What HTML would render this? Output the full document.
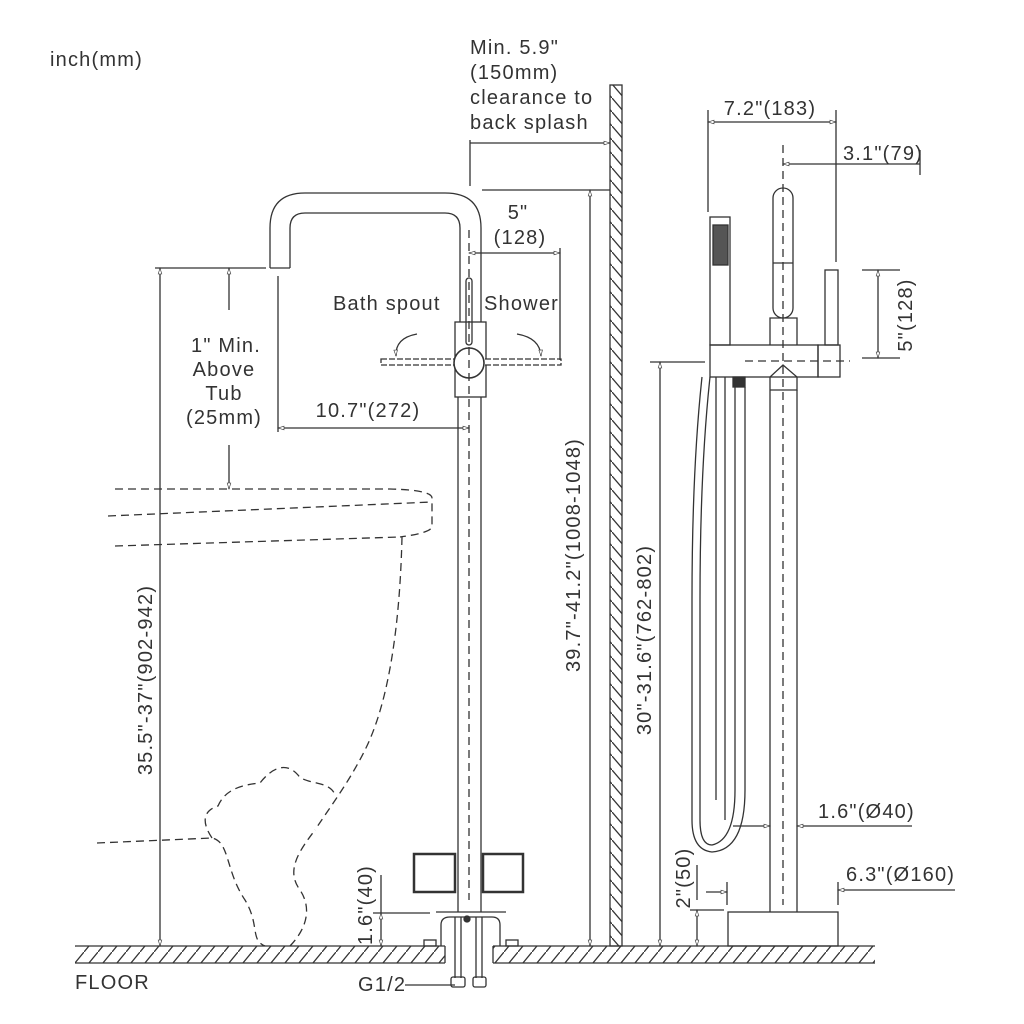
<!DOCTYPE html>
<html><head><meta charset="utf-8"><style>
html,body{margin:0;padding:0;background:#fff;}
svg{display:block;}
text{font-family:"Liberation Sans",Arial,sans-serif;fill:#333;font-size:20px;letter-spacing:1.2px;}
</style></head><body>
<svg width="1024" height="1024" viewBox="0 0 1024 1024" xmlns="http://www.w3.org/2000/svg">
<defs>
<pattern id="h" width="14" height="17" patternUnits="userSpaceOnUse">
<line x1="0" y1="17" x2="14" y2="0" stroke="#333" stroke-width="1.3"/>
</pattern>
<pattern id="wh" width="12" height="14" patternUnits="userSpaceOnUse">
<line x1="0" y1="0" x2="12" y2="14" stroke="#333" stroke-width="1.3"/>
</pattern>
<marker id="a" viewBox="0 0 10 10" refX="10" refY="5" markerWidth="10" markerHeight="6" orient="auto-start-reverse" markerUnits="userSpaceOnUse">
<path d="M0,2 L10,5 L0,8 z" fill="#fff" stroke="#333" stroke-width="1"/>
</marker>
</defs>
<g stroke="#333" fill="none" stroke-width="1.3">
<rect x="75" y="946" width="370" height="17" fill="url(#h)" stroke="none"/>
<rect x="493" y="946" width="382" height="17" fill="url(#h)" stroke="none"/>
<line x1="75" y1="946" x2="445" y2="946"/><line x1="75" y1="963" x2="445" y2="963"/><line x1="445" y1="946" x2="445" y2="963"/>
<line x1="493" y1="946" x2="875" y2="946"/><line x1="493" y1="963" x2="875" y2="963"/><line x1="493" y1="946" x2="493" y2="963"/>
<rect x="610" y="85" width="12" height="861" fill="url(#wh)"/>

<g stroke-dasharray="8,5">
<path d="M115,489 L390,489 Q432,490 432,498 L432,527 Q430,533 400,537 L400,537"/>
<line x1="108" y1="516" x2="432" y2="502"/>
<path d="M115,546 L400,537"/>
<path d="M402,537 C400,620 390,700 365,750 C350,780 335,800 315,830"/>
<path d="M97,843 L212,838 C230,842 225,870 245,900 C260,925 250,940 265,946 M290,946 C310,925 310,905 300,890 C285,870 300,850 315,830 M212,838 C200,820 205,810 218,806 C225,790 240,785 260,783 C270,770 285,760 298,775 C305,785 330,780 335,795"/>
</g>

<path d="M270,268 L270,228 Q270,193 305,193 L445,193 Q481,193 481,228 L481,322"/>
<path d="M290,268 L290,228 Q290,213 305,213 L445,213 Q460,213 460,228 L460,322"/>
<line x1="270" y1="268" x2="290" y2="268"/>
<rect x="466" y="278" width="6" height="67" rx="3"/>
<rect x="455" y="322" width="31" height="75"/>
<line x1="458" y1="397" x2="458" y2="912"/><line x1="481" y1="397" x2="481" y2="912"/>
<rect x="381" y="359" width="180" height="6" stroke-dasharray="6,2" fill="#fff"/>
<circle cx="469" cy="363" r="15" fill="#fff" stroke-width="1.6"/>
<line x1="469" y1="230" x2="469" y2="900" stroke-dasharray="8,5"/>
<rect x="414" y="854" width="41" height="38" stroke-width="2.5"/>
<rect x="483" y="854" width="40" height="38" stroke-width="2.5"/>
<path d="M441,946 L441,925 Q441,917 450,917 L492,917 Q500,917 500,925 L500,946"/>
<line x1="436" y1="912" x2="506" y2="912"/>
<rect x="424" y="940" width="12" height="6"/><rect x="506" y="940" width="12" height="6"/>
<line x1="455" y1="917" x2="455" y2="978"/><line x1="461" y1="917" x2="461" y2="978"/>
<line x1="476" y1="917" x2="476" y2="978"/><line x1="482" y1="917" x2="482" y2="978"/>
<rect x="451" y="977" width="14" height="10" rx="2"/><rect x="473" y="977" width="13" height="10" rx="2"/>
<circle cx="467" cy="919" r="3" fill="#333"/>
<path d="M417,334 Q395,338 396,356" marker-end="url(#a)"/>
<path d="M517,334 Q540,338 541,356" marker-end="url(#a)"/>

<line x1="155" y1="268" x2="266" y2="268"/>
<line x1="160" y1="268" x2="160" y2="946" marker-start="url(#a)" marker-end="url(#a)"/>
<line x1="229" y1="268" x2="229" y2="310" marker-start="url(#a)"/>
<line x1="229" y1="445" x2="229" y2="489" marker-end="url(#a)"/>
<line x1="278" y1="276" x2="278" y2="432"/>
<line x1="278" y1="428" x2="469" y2="428" marker-start="url(#a)" marker-end="url(#a)"/>
<line x1="470" y1="140" x2="470" y2="186"/>
<line x1="470" y1="143" x2="610" y2="143" marker-end="url(#a)"/>
<line x1="482" y1="190" x2="610" y2="190"/>
<line x1="590" y1="190" x2="590" y2="946" marker-start="url(#a)" marker-end="url(#a)"/>
<line x1="469" y1="253" x2="560" y2="253" marker-start="url(#a)" marker-end="url(#a)"/>
<line x1="560" y1="248" x2="560" y2="360"/>
<line x1="373" y1="913" x2="430" y2="913"/>
<line x1="381" y1="875" x2="381" y2="913" />
<line x1="381" y1="913" x2="381" y2="946" marker-start="url(#a)" marker-end="url(#a)"/>
<line x1="405" y1="985" x2="455" y2="985"/>

<rect x="710" y="217" width="20" height="128"/>
<rect x="713" y="225" width="15" height="40" fill="#555"/>
<rect x="773" y="188" width="20" height="130" rx="10"/>
<line x1="773" y1="263" x2="793" y2="263"/>
<path d="M770,345 L770,318 L797,318 L797,345"/>
<rect x="825" y="270" width="13" height="75"/>
<rect x="710" y="345" width="108" height="32"/>
<rect x="818" y="345" width="22" height="32"/>
<path d="M770,390 L770,377 L783,365 L797,377 L797,390 L770,390"/>
<line x1="770" y1="390" x2="770" y2="912"/><line x1="797" y1="390" x2="797" y2="912"/>
<line x1="783" y1="145" x2="783" y2="905" stroke-dasharray="8,5"/>
<line x1="745" y1="361" x2="850" y2="361" stroke-dasharray="8,5"/>
<rect x="728" y="912" width="110" height="34"/>
<rect x="733" y="377" width="12" height="10" fill="#333"/>
<path d="M735,387 L735,790 Q735,840 712,845 Q700,845 700,820 L700,600 Q700,470 710,377"/>
<path d="M745,387 L745,790 Q745,850 712,852 Q692,850 692,820 L692,600 Q692,470 702,377"/>
<path d="M716,377 L716,800"/><path d="M725,377 L725,820"/>
<line x1="708" y1="110" x2="708" y2="212"/>
<line x1="836" y1="110" x2="836" y2="262"/>
<line x1="708" y1="122" x2="836" y2="122" marker-start="url(#a)" marker-end="url(#a)"/>
<line x1="920" y1="150" x2="920" y2="175"/>
<line x1="783" y1="164" x2="920" y2="164" marker-start="url(#a)"/>
<line x1="862" y1="270" x2="900" y2="270"/>
<line x1="862" y1="358" x2="900" y2="358"/>
<line x1="878" y1="270" x2="878" y2="358" marker-start="url(#a)" marker-end="url(#a)"/>
<line x1="650" y1="362" x2="705" y2="362"/>
<line x1="660" y1="362" x2="660" y2="946" marker-start="url(#a)" marker-end="url(#a)"/>
<line x1="690" y1="910" x2="724" y2="910"/>
<line x1="697" y1="910" x2="697" y2="946" marker-start="url(#a)" marker-end="url(#a)"/>
<line x1="697" y1="865" x2="697" y2="900"/>
<line x1="706" y1="892" x2="727" y2="892" marker-end="url(#a)"/>
<line x1="727" y1="882" x2="727" y2="905"/>
<line x1="838" y1="882" x2="838" y2="905"/>
<line x1="838" y1="890" x2="955" y2="890" marker-start="url(#a)"/>
<line x1="733" y1="826" x2="770" y2="826" marker-end="url(#a)"/>
<line x1="797" y1="826" x2="912" y2="826" marker-start="url(#a)"/>
</g>

<text x="50" y="66">inch(mm)</text>
<text x="470" y="54">Min. 5.9"</text>
<text x="470" y="79">(150mm)</text>
<text x="470" y="104">clearance to</text>
<text x="470" y="129">back splash</text>
<text x="226" y="352" text-anchor="middle">1" Min.</text>
<text x="224" y="376" text-anchor="middle">Above</text>
<text x="224" y="400" text-anchor="middle">Tub</text>
<text x="224" y="424" text-anchor="middle">(25mm)</text>
<text x="368" y="417" text-anchor="middle">10.7"(272)</text>
<text x="518" y="219" text-anchor="middle">5"</text>
<text x="520" y="244" text-anchor="middle">(128)</text>
<text x="333" y="310">Bath spout</text>
<text x="484" y="310">Shower</text>
<text x="770" y="115" text-anchor="middle">7.2"(183)</text>
<text x="883" y="160" text-anchor="middle">3.1"(79)</text>
<text x="818" y="818">1.6"(Ø40)</text>
<text x="846" y="881">6.3"(Ø160)</text>
<text x="75" y="989">FLOOR</text>
<text x="358" y="991">G1/2</text>
<text transform="translate(152,680) rotate(-90)" text-anchor="middle">35.5"-37"(902-942)</text>
<text transform="translate(580,555) rotate(-90)" text-anchor="middle">39.7"-41.2"(1008-1048)</text>
<text transform="translate(651,640) rotate(-90)" text-anchor="middle">30"-31.6"(762-802)</text>
<text transform="translate(912,315) rotate(-90)" text-anchor="middle">5"(128)</text>
<text transform="translate(690,878) rotate(-90)" text-anchor="middle">2"(50)</text>
<text transform="translate(372,905) rotate(-90)" text-anchor="middle">1.6"(40)</text>
</svg>
</body></html>
